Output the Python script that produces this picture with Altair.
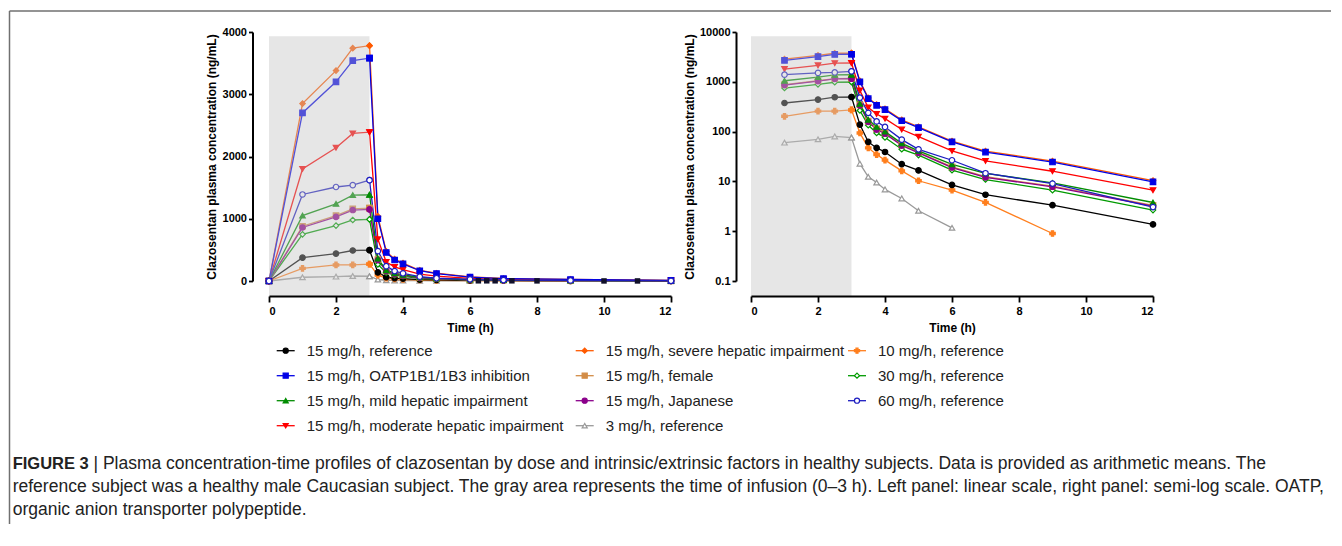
import altair as alt
import pandas as pd

# ---------------- data ----------------
times = [0, 1, 2, 2.5, 3, 3.25, 3.5, 3.75, 4, 4.5, 5, 6, 7, 9, 12]

series_names = [
    "15 mg/h, reference",
    "15 mg/h, OATP1B1/1B3 inhibition",
    "15 mg/h, mild hepatic impairment",
    "15 mg/h, moderate hepatic impairment",
    "15 mg/h, severe hepatic impairment",
    "15 mg/h, female",
    "15 mg/h, Japanese",
    "3 mg/h, reference",
    "10 mg/h, reference",
    "30 mg/h, reference",
    "60 mg/h, reference",
]

ref15 = [0, 375, 440, 490, 495, 138, 62, 47, 39, 22.2, 16.6, 8.5, 5.4, 3.33, 1.37]
oatp15 = [0, 2700, 3200, 3540, 3580, 1000, 458, 337, 276, 165, 120, 62, 38.8, 24.5, 9.8]
mild15 = [0, 1050, 1240, 1380, 1385, 360, 173, 125, 100, 58, 41, 22, 14.5, 9.3, 3.77]
moderate15 = [0, 1800, 2140, 2370, 2390, 670, 305, 226, 182, 110, 79, 41, 25.8, 16.0, 6.65]
severe15 = [0, 2850, 3380, 3740, 3780, 1040, 475, 350, 288, 172, 125, 64.5, 40.5, 25.5, 10.4]
female15 = [0, 880, 1050, 1160, 1170, 345, 162, 113, 94, 54, 38.5, 19.6, 12.4, 8.0, 3.3]
japanese15 = [0, 860, 1030, 1140, 1150, 336, 157, 110, 91, 52.5, 37.4, 19.0, 12.0, 7.8, 3.2]
ref3 = [0, 60, 70, 80, 76, 22.7, 12.4, 9.5, 6.9, 4.55, 2.57, 1.17, None, None, None]
ref10 = [0, 203, 258, 258, 272, 94, 47, 34.6, 26.7, 16.3, 10.3, 6.7, 3.8, 0.90, None]
ref30 = [0, 750, 890, 980, 990, 265, 134, 94, 76, 44.4, 33.7, 16.8, 10.9, 6.67, 2.65]
ref60 = [0, 1390, 1510, 1540, 1620, 480, 238, 160, 124, 69, 44, 26.6, 14.6, 9.05, 3.05]

series_values = [ref15, oatp15, mild15, moderate15, severe15, female15,
                 japanese15, ref3, ref10, ref30, ref60]

# extra samples shown on the linear panel only
extra_t = [6.25, 6.5, 6.75, 7.25, 8, 10, 11]
extra_v = [3, 3, 3, 3, 2, 1, 1]

colors = ["#000000", "#0000e6", "#008c00", "#ff0000", "#ff5a00", "#d28c46",
          "#8b008b", "#999999", "#ff7f1e", "#009a00", "#1c1cc0"]
fills = ["#000000", "#0000e6", "#008c00", "#ff0000", "#ff5a00", "#d28c46",
         "#8b008b", "#ffffff", "#ff7f1e", "#ffffff", "#ffffff"]
shapes = ["circle", "square", "triangle-up", "triangle-down", "diamond", "square",
          "circle", "triangle-up", "cross", "diamond", "circle"]
draw_rank = [2, 9, 6, 7, 8, 4, 5, 0, 1, 3, 10]

caption_bold = "FIGURE 3"
caption_lines = [
    "| Plasma concentration-time profiles of clazosentan by dose and intrinsic/extrinsic factors in healthy subjects. Data is provided as arithmetic means. The",
    "reference subject was a healthy male Caucasian subject. The gray area represents the time of infusion (0\u20133 h). Left panel: linear scale, right panel: semi-log scale. OATP,",
    "organic anion transporter polypeptide.",
]

# ---------------- tables ----------------
rows = []
for name, vals, rk in zip(series_names, series_values, draw_rank):
    for t, v in zip(times, vals):
        if v is None:
            continue
        rows.append({"series": name, "t": t, "v": v, "rank": rk})
df = pd.DataFrame(rows).sort_values(["rank", "t"]).reset_index(drop=True)
df_log = df[df["t"] > 0].reset_index(drop=True)
df_extra = pd.DataFrame({"t": extra_t, "v": extra_v})

leg = pd.DataFrame({"series": series_names,
                    "col": [i // 4 for i in range(len(series_names))],
                    "row": [i % 4 for i in range(len(series_names))]})

FONT = "Liberation Sans"
AX = dict(domainColor="black", domainWidth=2, tickColor="black", tickWidth=1.8,
          labelColor="black", labelFont=FONT, labelFontWeight="bold", labelFontSize=11,
          titleFont=FONT, titleFontWeight="bold", titleFontSize=12, titleColor="black",
          grid=False, zindex=1)

stroke_enc = alt.Stroke("series:N", scale=alt.Scale(domain=series_names, range=colors), legend=None)
fill_enc = alt.Fill("series:N", scale=alt.Scale(domain=series_names, range=fills), legend=None)
shape_enc = alt.Shape("series:N", scale=alt.Scale(domain=series_names, range=shapes), legend=None)

W, H = 402, 249


def panel(data, yscale, yvalues, yfmt, yoffset, ytitlepad, shade_y, frame=False, extra=False):
    xenc = alt.X("t:Q", scale=alt.Scale(domain=[0, 12], nice=False),
                 axis=alt.Axis(values=[0, 2, 4, 6, 8, 10, 12], title="Time (h)", offset=15,
                               tickSize=6, labelPadding=3, titlePadding=6, **AX))
    yenc = alt.Y("v:Q", scale=yscale,
                 axis=alt.Axis(values=yvalues, format=yfmt,
                               title="Clazosentan plasma concentration (ng/mL)",
                               offset=yoffset, tickSize=4, labelPadding=2,
                               titlePadding=ytitlepad, **AX))
    base = alt.Chart(data)
    lines = base.mark_line(strokeWidth=1.3).encode(x=xenc, y=yenc, stroke=stroke_enc,
                                                   detail="series:N")
    pts = base.mark_point(filled=True, size=30, strokeWidth=1.2, opacity=1).encode(
        x=xenc, y=yenc, fill=fill_enc, stroke=stroke_enc, shape=shape_enc)
    shade_df = pd.DataFrame({"t": [0], "t2": [3], "v": [shade_y[0]], "v2": [shade_y[1]]})
    shade = alt.Chart(shade_df).mark_rect(color="#c4c4c4", opacity=0.42).encode(
        x=xenc, x2="t2:Q", y=yenc, y2="v2:Q")
    edge_pts = pts.transform_filter("datum.t == 3 || datum.t == 0")
    layers = []
    if frame:
        one = pd.DataFrame({"a": [0]})
        layers.append(alt.Chart(one).mark_rule(color="#707070", strokeWidth=1.5).encode(
            x=alt.value(-259.5), y=alt.value(-21), y2=alt.value(492)))
        layers.append(alt.Chart(one).mark_rule(color="#707070", strokeWidth=1.5).encode(
            x=alt.value(-259.5), x2=alt.value(1062), y=alt.value(-21)))
    layers += [lines, pts, shade, edge_pts]
    if extra:
        layers.append(alt.Chart(df_extra).mark_point(filled=True, shape="square", size=30,
                                                     color="#10102a", opacity=1).encode(x=xenc, y=yenc))
    return alt.layer(*layers).properties(width=W, height=H)


left = panel(df, alt.Scale(domain=[0, 4000], nice=False), [0, 1000, 2000, 3000, 4000], "d",
             16.5, 4, [-235, 3930], frame=True, extra=True)
right = panel(df_log, alt.Scale(type="log", domain=[0.1, 10000], nice=False),
              [0.1, 1, 10, 100, 1000, 10000], "~g", 15, 3, [0.05, 8200])

# ---------------- legend + caption ----------------
lx = alt.X("col:Q", scale=alt.Scale(domain=[0, 1, 2], range=[16.7, 315.7, 588]), axis=None)
ly = alt.Y("row:Q", scale=alt.Scale(domain=[0, 3], range=[12.7, 87.7]), axis=None)
lbase = alt.Chart(leg)
l_rule = lbase.mark_rule(strokeWidth=1.3, xOffset=-9, x2Offset=9).encode(
    x=lx, x2="col:Q", y=ly, stroke=stroke_enc)
l_pts = lbase.mark_point(filled=True, size=26, strokeWidth=1.2, opacity=1).encode(
    x=lx, y=ly, fill=fill_enc, stroke=stroke_enc, shape=shape_enc)
l_txt = lbase.mark_text(align="left", baseline="middle", dx=21, font=FONT, fontSize=15,
                        color="#222222").encode(x=lx, y=ly, text="series:N")

one = pd.DataFrame({"a": [0]})
CAP = 17.5
cap_layers = [alt.Chart(one).mark_text(align="left", baseline="middle", font=FONT, fontSize=16.5,
                                       fontWeight="bold", color="#222222").encode(
    x=alt.value(-256.3), y=alt.value(126), text=alt.value(caption_bold))]
cap_x = [-175.5, -256.3, -256.3]
cap_y = [126, 149, 172]
for txt, cx, cy in zip(caption_lines, cap_x, cap_y):
    cap_layers.append(alt.Chart(one).mark_text(align="left", baseline="middle", font=FONT,
                                               fontSize=CAP, color="#222222").encode(
        x=alt.value(cx), y=alt.value(cy), text=alt.value(txt)))

bottom = alt.layer(l_rule, l_pts, l_txt, *cap_layers).properties(width=W, height=100)

chart = alt.concat(left, right, bottom, columns=2, spacing={"row": 57, "column": 80},
                   bounds="flush").properties(
    padding={"left": 0, "top": 2, "right": 0, "bottom": 0}
).configure(font=FONT).configure_view(stroke=None)

chart.save("out.html", embed_options={"renderer": "svg", "actions": False})
